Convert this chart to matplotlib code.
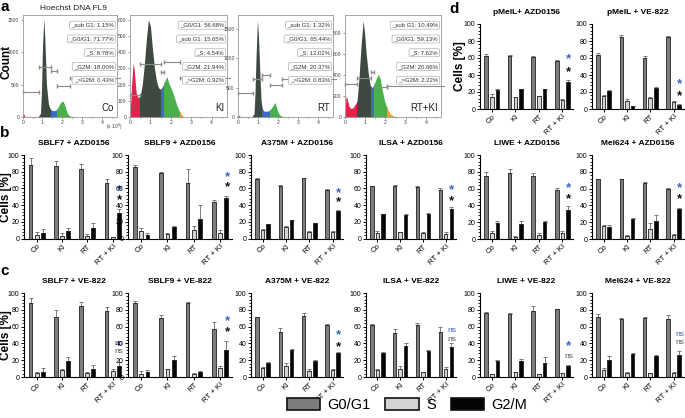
import numpy as np
import matplotlib
matplotlib.use("Agg")
import matplotlib.pyplot as plt
from matplotlib.patches import Rectangle, Patch
from matplotlib.ticker import MultipleLocator

plt.rcParams['font.family'] = ['Liberation Sans', 'DejaVu Sans']

W, H = 685, 418

# ---------------- panel a: Hoechst DNA histograms (x in 10^6) ----------------
co_x = [0, 0.04, 0.1, 0.8, 0.9, 0.95, 1.0, 1.07, 1.12, 1.2, 1.3, 1.4, 1.5, 1.6, 1.7, 1.8, 1.9, 2.0, 2.05, 2.15, 2.25, 2.35, 2.5, 2.7, 3.0]
co_y = [50, 60, 10, 5, 60, 400, 1100, 1520, 1200, 500, 200, 120, 100, 100, 110, 160, 220, 245, 240, 160, 60, 20, 10, 3, 0]
ki_x = [0, 0.08, 0.15, 0.2, 0.3, 0.4, 0.5, 0.6, 0.7, 0.8, 0.9, 1.0, 1.1, 1.2, 1.3, 1.4, 1.5, 1.6, 1.7, 1.8, 1.9, 2.0, 2.1, 2.2, 2.3, 2.4, 2.5, 2.6, 2.7]
ki_y = [10, 200, 330, 300, 150, 120, 130, 200, 320, 480, 600, 560, 420, 300, 220, 180, 170, 190, 220, 250, 210, 180, 150, 110, 70, 40, 20, 5, 0]
rt_x = [0, 0.05, 0.1, 0.2, 0.7, 0.8, 0.85, 0.9, 0.97, 1.02, 1.1, 1.15, 1.2, 1.3, 1.5, 1.6, 1.7, 1.8, 1.85, 1.9, 2.0, 2.1, 2.2, 2.5, 3.0]
rt_y = [20, 30, 10, 5, 5, 50, 400, 1000, 1650, 1400, 700, 300, 150, 100, 100, 120, 170, 220, 250, 200, 80, 30, 10, 5, 0]
rtki_x = [0, 0.05, 0.1, 0.2, 0.3, 0.4, 0.5, 0.6, 0.7, 0.8, 0.9, 0.97, 1.05, 1.15, 1.25, 1.35, 1.45, 1.55, 1.65, 1.75, 1.85, 1.95, 2.05, 2.15, 2.25, 2.35, 2.5, 2.7]
rtki_y = [20, 200, 180, 100, 80, 90, 120, 150, 400, 700, 920, 800, 600, 420, 300, 280, 320, 370, 410, 360, 250, 160, 100, 60, 30, 15, 5, 0]

# gate borders: subG1 | G0/G1 | S | G2M | >G2M
co_gates = [0.8, 1.45, 1.75, 2.4, 2.75]
ki_gates = [0.5, 1.5, 1.65, 2.45, 2.6]
rt_gates = [0.75, 1.2, 1.6, 2.2, 2.6]
rtki_gates = [0.6, 1.3, 1.45, 2.1, 2.5]

# bracket heights (counts) for the five gates
co_brackets = [380, 767, 716, 484, 597]
ki_brackets = [137, 326, 280, 339, 238]
rt_brackets = [416, 640, 714, 545, 652]
rtki_brackets = [312, 375, 431, 283, 296]

co_stats = ["_sub G1: 1.15%", "_G0/G1: 71.77%", "_S: 8.78%", "_G2M: 18.00%", "_>G2M: 0.43%"]
ki_stats = ["_G0/G1: 56.68%", "_sub G1: 15.65%", "_S: 4.54%", "_G2M: 21.94%", "_>G2M: 0.92%"]
rt_stats = ["_sub G1: 1.32%", "_G0/G1: 65.44%", "_S: 12.02%", "_G2M: 20.37%", "_>G2M: 0.83%"]
rtki_stats = ["_sub G1: 10.49%", "_G0/G1: 59.13%", "_S: 7.62%", "_G2M: 20.66%", "_>G2M: 2.22%"]

# ---------------- panels b-d: cell cycle distribution [%] ----------------
groups = ["Co", "KI", "RT", "RT + KI"]

sblf7_azd_g1 = [88, 87, 83, 66]
sblf7_azd_s = [4, 3, 3, 1.5]
sblf7_azd_g2m = [7, 9, 13, 31]
sblf7_azd_sd = [[9, 6, 6, 5], [4, 4, 3, 1], [4, 4, 6, 5]]

sblf9_azd_g1 = [86, 79, 67, 44]
sblf9_azd_s = [9, 6, 10, 7]
sblf9_azd_g2m = [5, 14, 23, 49]
sblf9_azd_sd = [[2, 1, 16, 2], [4, 1, 5, 3], [2, 1, 17, 2]]

a375_azd_g1 = [71, 63, 72, 58]
a375_azd_s = [10.5, 14, 8, 8.5]
a375_azd_g2m = [17, 22, 18.5, 33]
a375_azd_sd = [[1, 1, 1, 1], [0.8, 1.5, 1, 1], [1, 0.5, 0.5, 1.5]]

ilsa_azd_g1 = [62.5, 63, 62, 58.5]
ilsa_azd_s = [7, 7.5, 7, 6]
ilsa_azd_g2m = [29.5, 28.5, 30, 35]
ilsa_azd_sd = [[1, 1, 1, 1.5], [2, 1, 1.5, 1.5], [0.5, 0.5, 1, 2.5]]

sblf7_ve_g1 = [88, 72, 85, 78]
sblf7_ve_s = [5, 8, 4.5, 7]
sblf7_ve_g2m = [5.5, 18.5, 9.5, 13]
sblf7_ve_sd = [[6, 8, 4, 5], [1.5, 2, 1, 2], [5.5, 5.5, 4.5, 5]]

sblf9_ve_g1 = [88, 70, 88, 57]
sblf9_ve_s = [4, 9, 4, 11]
sblf9_ve_g2m = [6, 20, 6.5, 32]
sblf9_ve_sd = [[3, 4, 1, 9], [3, 1, 1, 2], [2, 5, 0.5, 11]]

a375_ve_g1 = [71.5, 54, 73, 62]
a375_ve_s = [11, 13, 7, 8.5]
a375_ve_g2m = [16.5, 32.5, 19, 29]
a375_ve_sd = [[0.5, 4, 3, 1], [1, 4, 2.5, 0.5], [1, 0.5, 1, 1]]

ilsa_ve_g1 = [62.5, 52, 62, 54]
ilsa_ve_s = [8, 10, 6, 9.5]
ilsa_ve_g2m = [28.5, 37, 31, 36]
ilsa_ve_sd = [[0.5, 5, 2.5, 6], [1, 3.5, 0.5, 2.5], [1, 4, 1.5, 4]]

pmell_azd_g1 = [62, 62, 61, 56.5]
pmell_azd_s = [14.5, 14, 15, 11]
pmell_azd_g2m = [22.5, 23.5, 23, 31.5]
pmell_azd_sd = [[3, 1, 1, 1], [3.5, 0.5, 0.5, 1], [1.5, 0.5, 0.5, 2.5]]

pmell_ve_g1 = [63, 85, 60.5, 85]
pmell_ve_s = [15, 10, 13, 8]
pmell_ve_g2m = [21, 3, 25, 5]
pmell_ve_sd = [[3, 2, 1.5, 1], [1, 1.5, 1, 1], [1, 1, 1, 1]]

liwe_azd_g1 = [75, 79, 75, 58]
liwe_azd_s = [7, 2.5, 5, 7]
liwe_azd_g2m = [18.5, 18, 20, 35]
liwe_azd_sd = [[5, 4, 4, 3], [2, 1, 2, 2], [2.5, 4, 2, 4]]

mel624_azd_g1 = [71, 71, 67, 59]
mel624_azd_s = [15, 3.5, 12, 4.5]
mel624_azd_g2m = [14, 24, 21, 36]
mel624_azd_sd = [[1, 1, 1, 2], [2, 1, 7, 1], [2.5, 0.5, 8, 1]]

liwe_ve_g1 = [76, 74.5, 78.5, 81]
liwe_ve_s = [3.5, 6, 3.5, 4.5]
liwe_ve_g2m = [19.5, 18.5, 17, 13]
liwe_ve_sd = [[1, 1.5, 6.5, 0.5], [0.5, 0.5, 0.5, 0.5], [0.5, 2.5, 7, 1]]

mel624_ve_g1 = [72, 68.5, 70, 69]
mel624_ve_s = [8, 5, 4.5, 5]
mel624_ve_g2m = [20, 27, 25.5, 26]
mel624_ve_sd = [[3, 1.5, 1, 5], [3, 1, 0.5, 1], [5, 2, 0.5, 5]]

# significance marks above RT + KI: (upper text, upper y, lower text, lower y)
sblf7_azd_sig = ("*", 58, "*", 46)
sblf9_azd_sig = ("*", 73, "*", 62)
a375_azd_sig = ("*", 54, "*", 44)
ilsa_azd_sig = ("*", 58, "*", 45)
sblf7_ve_sig = ("ns", 40, "ns", 30)
sblf9_ve_sig = ("*", 66, "*", 53)
a375_ve_sig = ("*", 50, "*", 36)
ilsa_ve_sig = ("ns", 55, "ns", 45)
pmell_azd_sig = ("*", 59, "*", 43)
pmell_ve_sig = ("*", 29, "*", 15)
liwe_azd_sig = ("*", 60, "*", 48)
mel624_azd_sig = ("*", 60, "*", 47)
liwe_ve_sig = ("*", 37, "ns", 24)
mel624_ve_sig = ("ns", 51, "ns", 41)

BAR_COLORS = ["#7d7d7d", "#d4d4d4", "#050505"]
HIST_COLORS = ["#e3224d", "#3e4a41", "#3b6cc4", "#4bb04b", "#f0a53a"]
BLUE = "#3a64c8"


def px_axes(fig, left, right, top, bottom):
    return fig.add_axes([left / W, 1 - bottom / H, (right - left) / W, (bottom - top) / H])


def hist_panel(ax, x, y, gates, brackets, stats, name, ymax, ystep, first=False):
    edges = [0] + gates
    for i, c in enumerate(HIST_COLORS):
        poly = ax.fill_between(x, y, color=c, lw=0)
        rect = Rectangle((edges[i], 0), edges[i + 1] - edges[i], ymax * 2, transform=ax.transData)
        poly.set_clip_path(rect)
    # gate brackets
    for i, yb in enumerate(brackets):
        x0 = edges[i] if i > 0 else 0
        x1 = edges[i + 1] if i < 4 else 4.9
        ax.plot([x0, x1], [yb, yb], color="#8a8a8a", lw=0.8, marker="|", ms=3,
                markevery=[0, 1] if i < 4 else [0], clip_on=False)
    for k, s in enumerate(stats):
        ax.text(0.97, 0.90 - k * 0.135, s, transform=ax.transAxes, ha="right", va="center",
                fontsize=4.3, color="#333",
                bbox=dict(boxstyle="round,pad=0.25", fc="white", ec="#b0b0b0", lw=0.5))
    ax.text(0.97, 0.04, name, transform=ax.transAxes, ha="right", va="bottom", fontsize=7, color="#222")
    ax.set_xlim(0, 4.75)
    ax.set_ylim(0, ymax)
    ax.xaxis.set_major_locator(MultipleLocator(1))
    ax.xaxis.set_minor_locator(MultipleLocator(0.5))
    ax.yaxis.set_major_locator(MultipleLocator(ystep))
    ax.tick_params(labelsize=3.6, length=1.5, width=0.4, pad=1, colors="#444")
    ax.tick_params(which="minor", length=1, width=0.4)
    for sp in ax.spines.values():
        sp.set_color("#999")
        sp.set_linewidth(0.6)
    if first:
        ax.text(4.2, -0.045 * ymax, r"(x 10$^6$)", fontsize=3.6, color="#444", va="top")


def bar_panel(ax, g1, s, g2m, sd, sig, title):
    x = np.arange(len(groups))
    offsets = [-0.24, 0, 0.24]
    for off, vals, err, fc in zip(offsets, [g1, s, g2m], sd, BAR_COLORS):
        ax.errorbar(x + off, vals, yerr=[np.zeros(len(vals)), err], fmt="none",
                    ecolor="#666", elinewidth=0.6, capsize=1.3, capthick=0.6, zorder=1)
        ax.bar(x + off, vals, 0.15, color=fc, edgecolor="#222", lw=0.6, zorder=2)
    up, yu, lo, yl = sig
    for txt, yy, col in [(up, yu, BLUE), (lo, yl, "#111")]:
        if txt == "*":
            ax.text(3.26, yy, txt, ha="center", va="center", fontsize=9.5, color=col,
                    fontweight="bold", clip_on=False)
        else:
            ax.text(3.26, yy, txt, ha="center", va="center", fontsize=6,
                    color=BLUE if col == BLUE else "#555", clip_on=False)
    ax.set_xlim(-0.5, 3.45)
    ax.set_ylim(0, 100)
    ax.set_xticks(x)
    ax.set_xticklabels(groups, rotation=45, ha="right", rotation_mode="anchor", fontsize=5.6)
    ax.yaxis.set_major_locator(MultipleLocator(20))
    ax.yaxis.set_minor_locator(MultipleLocator(4))
    ax.tick_params(axis="y", labelsize=5, length=2.5, width=0.7, pad=1)
    ax.tick_params(axis="y", which="minor", length=1.5, width=0.6)
    ax.tick_params(axis="x", length=2, width=0.7, pad=1)
    for sp in ["top", "right"]:
        ax.spines[sp].set_visible(False)
    for sp in ["left", "bottom"]:
        ax.spines[sp].set_linewidth(0.8)
    ax.set_title(title, fontsize=6, fontweight="bold", pad=7)


fig = plt.figure(figsize=(W / 100, H / 100), dpi=100)

# panel a
hist_boxes = [(22.7, 116.7), (130, 227), (238, 333), (345, 441)]
hist_data = [
    (co_x, co_y, co_gates, co_brackets, co_stats, "Co", 1580, 500),
    (ki_x, ki_y, ki_gates, ki_brackets, ki_stats, "KI", 630, 100),
    (rt_x, rt_y, rt_gates, rt_brackets, rt_stats, "RT", 1740, 500),
    (rtki_x, rtki_y, rtki_gates, rtki_brackets, rtki_stats, "RT+KI", 975, 200),
]
for i, ((l, r), d) in enumerate(zip(hist_boxes, hist_data)):
    ax = px_axes(fig, l, r, 15, 117)
    hist_panel(ax, *d, first=(i == 0))

fig.text(40 / W, 1 - 8 / H, "Hoechst DNA FL9", fontsize=6, va="center", color="#222")
fig.text(6.5 / W, 1 - 62 / H, "Count", rotation=90, fontsize=8.5, fontweight="bold", ha="center", va="center")

# panels b, c, d
cols_bc = [(24, 124), (128, 232), (251, 343), (366, 456)]
cols_d = [(480, 573), (592, 684)]
row_b = (155, 238.7)
row_c = (293, 377)
row_d1 = (24, 109)
row_d2 = (155, 239)
row_d3 = (293, 377)

panels = [
    (cols_bc[0], row_b, sblf7_azd_g1, sblf7_azd_s, sblf7_azd_g2m, sblf7_azd_sd, sblf7_azd_sig, "SBLF7 + AZD0156"),
    (cols_bc[1], row_b, sblf9_azd_g1, sblf9_azd_s, sblf9_azd_g2m, sblf9_azd_sd, sblf9_azd_sig, "SBLF9 + AZD0156"),
    (cols_bc[2], row_b, a375_azd_g1, a375_azd_s, a375_azd_g2m, a375_azd_sd, a375_azd_sig, "A375M + AZD0156"),
    (cols_bc[3], row_b, ilsa_azd_g1, ilsa_azd_s, ilsa_azd_g2m, ilsa_azd_sd, ilsa_azd_sig, "ILSA + AZD0156"),
    (cols_bc[0], row_c, sblf7_ve_g1, sblf7_ve_s, sblf7_ve_g2m, sblf7_ve_sd, sblf7_ve_sig, "SBLF7 + VE-822"),
    (cols_bc[1], row_c, sblf9_ve_g1, sblf9_ve_s, sblf9_ve_g2m, sblf9_ve_sd, sblf9_ve_sig, "SBLF9 + VE-822"),
    (cols_bc[2], row_c, a375_ve_g1, a375_ve_s, a375_ve_g2m, a375_ve_sd, a375_ve_sig, "A375M + VE-822"),
    (cols_bc[3], row_c, ilsa_ve_g1, ilsa_ve_s, ilsa_ve_g2m, ilsa_ve_sd, ilsa_ve_sig, "ILSA + VE-822"),
    (cols_d[0], row_d1, pmell_azd_g1, pmell_azd_s, pmell_azd_g2m, pmell_azd_sd, pmell_azd_sig, "pMelL+ AZD0156"),
    (cols_d[1], row_d1, pmell_ve_g1, pmell_ve_s, pmell_ve_g2m, pmell_ve_sd, pmell_ve_sig, "pMelL + VE-822"),
    (cols_d[0], row_d2, liwe_azd_g1, liwe_azd_s, liwe_azd_g2m, liwe_azd_sd, liwe_azd_sig, "LIWE + AZD0156"),
    (cols_d[1], row_d2, mel624_azd_g1, mel624_azd_s, mel624_azd_g2m, mel624_azd_sd, mel624_azd_sig, "Mel624 + AZD0156"),
    (cols_d[0], row_d3, liwe_ve_g1, liwe_ve_s, liwe_ve_g2m, liwe_ve_sd, liwe_ve_sig, "LIWE + VE-822"),
    (cols_d[1], row_d3, mel624_ve_g1, mel624_ve_s, mel624_ve_g2m, mel624_ve_sd, mel624_ve_sig, "Mel624 + VE-822"),
]
for (l, r), (t, b), g1, s, g2m, sd, sig, title in panels:
    ax = px_axes(fig, l, r, t, b)
    bar_panel(ax, g1, s, g2m, sd, sig, title)

for xx, yy in [(6.5, 197), (6.5, 335), (460, 66)]:
    fig.text(xx / W, 1 - yy / H, "Cells [%]", rotation=90, fontsize=8.5, fontweight="bold",
             ha="center", va="center")

for lab, xx, yy in [("a", 5, 7), ("b", 5, 133), ("c", 5, 271), ("d", 454, 9)]:
    fig.text(xx / W, 1 - yy / H, lab, fontsize=11, fontweight="bold", ha="center", va="center")

handles = [Patch(facecolor=c, edgecolor="#111", lw=1.2) for c in BAR_COLORS]
fig.legend(handles, ["G0/G1", "S", "G2/M"], loc="center", bbox_to_anchor=(407 / W, 1 - 405 / H),
           ncol=3, frameon=False, fontsize=10.5, handlelength=2.3, handleheight=0.8,
           columnspacing=1.0, handletextpad=0.5)

fig.savefig("out.png", dpi=100)
